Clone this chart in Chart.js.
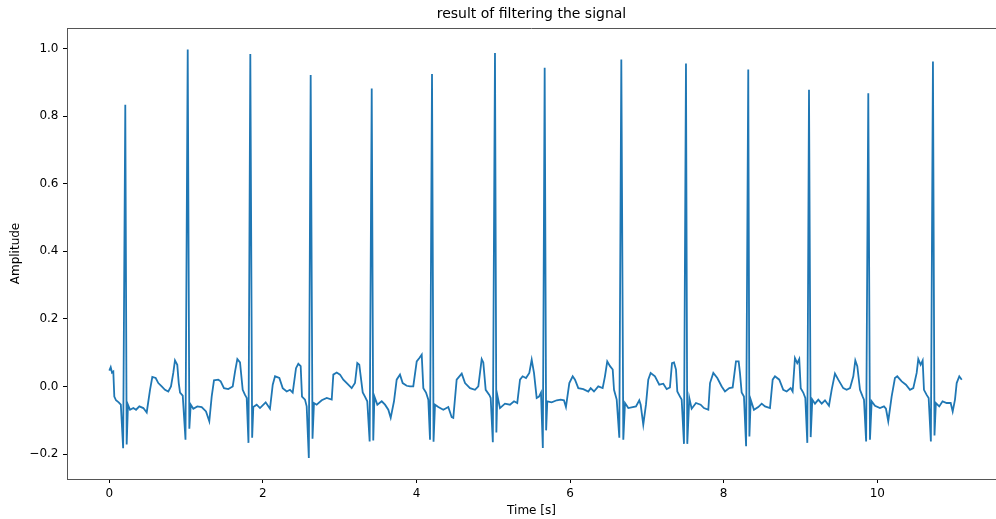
<!DOCTYPE html>
<html>
<head>
<meta charset="utf-8">
<script src="https://cdn.jsdelivr.net/npm/chart.js@4.4.1/dist/chart.umd.min.js"></script>
<style>
  html, body { margin: 0; padding: 0; background: #fff; }
  #wrap { width: 996px; height: 519px; }
</style>
</head>
<body>
<div id="wrap"><canvas id="myChart" width="996" height="519"></canvas></div>
<script>
// one line per heartbeat (same count of entries in both arrays on each line)
const timeS = [
  0.000, 0.018, 0.035, 0.052, 0.065, 0.087, 0.122, 0.150, 0.180, 0.208, 0.226, 0.243,
  0.270, 0.313, 0.348, 0.391, 0.443, 0.487, 0.530, 0.560, 0.604, 0.638, 0.682, 0.725, 0.768, 0.803, 0.833, 0.855, 0.885, 0.904, 0.921, 0.956, 0.992, 1.021, 1.042, 1.060,
  1.094, 1.146, 1.203, 1.259, 1.302, 1.333, 1.363, 1.419, 1.450, 1.493, 1.549, 1.607, 1.637, 1.667, 1.702, 1.737, 1.767, 1.789, 1.812, 1.836, 1.860, 1.875,
  1.919, 1.962, 2.036, 2.092, 2.128, 2.158, 2.214, 2.258, 2.310, 2.353, 2.388, 2.431, 2.461, 2.492, 2.509, 2.548, 2.570, 2.598, 2.622, 2.646, 2.665,
  2.700, 2.766, 2.831, 2.896, 2.917, 2.961, 3.004, 3.047, 3.099, 3.156, 3.199, 3.229, 3.255, 3.300, 3.329, 3.359, 3.390, 3.417, 3.437, 3.452,
  3.490, 3.547, 3.590, 3.633, 3.664, 3.707, 3.742, 3.785, 3.820, 3.872, 3.915, 3.958, 4.003, 4.040, 4.068, 4.089, 4.124, 4.154, 4.176, 4.202, 4.222, 4.241,
  4.284, 4.349, 4.414, 4.458, 4.479, 4.523, 4.589, 4.632, 4.697, 4.762, 4.805, 4.849, 4.870, 4.901, 4.948, 4.966, 4.994, 5.022, 5.040, 5.052,
  5.087, 5.152, 5.217, 5.270, 5.312, 5.348, 5.382, 5.426, 5.469, 5.500, 5.530, 5.565, 5.595, 5.621, 5.645, 5.669, 5.688, 5.703,
  5.760, 5.826, 5.877, 5.920, 5.946, 5.990, 6.034, 6.064, 6.107, 6.172, 6.237, 6.268, 6.311, 6.367, 6.424, 6.454, 6.484, 6.520, 6.555, 6.572, 6.607, 6.641, 6.667, 6.693, 6.715,
  6.758, 6.815, 6.858, 6.901, 6.919, 6.953, 6.988, 7.018, 7.049, 7.105, 7.161, 7.214, 7.258, 7.300, 7.327, 7.353, 7.379, 7.396, 7.431, 7.453, 7.483, 7.509, 7.526, 7.552,
  7.583, 7.639, 7.700, 7.743, 7.800, 7.822, 7.865, 7.917, 7.974, 8.017, 8.073, 8.117, 8.160, 8.195, 8.212, 8.234, 8.264, 8.292, 8.320, 8.335, 8.352,
  8.394, 8.450, 8.495, 8.538, 8.603, 8.638, 8.668, 8.724, 8.776, 8.820, 8.872, 8.898, 8.928, 8.958, 8.984, 9.003, 9.036, 9.063, 9.089, 9.111, 9.133, 9.154,
  9.189, 9.232, 9.276, 9.319, 9.371, 9.406, 9.449, 9.492, 9.557, 9.601, 9.645, 9.688, 9.714, 9.740, 9.775, 9.810, 9.827, 9.855, 9.883, 9.905, 9.927,
  9.970, 10.035, 10.087, 10.113, 10.143, 10.187, 10.230, 10.260, 10.318, 10.373, 10.426, 10.469, 10.513, 10.534, 10.565, 10.591, 10.608, 10.643, 10.669, 10.698, 10.725, 10.745, 10.763,
  10.807, 10.850, 10.904, 10.956, 10.982, 11.012, 11.034, 11.068, 11.100
];

const amplitude = [
  0.047, 0.057, 0.041, 0.044, -0.030, -0.041, -0.047, -0.054, -0.183, 0.834, -0.172, -0.054,
  -0.069, -0.064, -0.069, -0.059, -0.064, -0.077, -0.010, 0.028, 0.025, 0.010, 0.000, -0.010, -0.015, 0.000, 0.040, 0.077, 0.064, 0.010, -0.018, -0.027, -0.158, 0.997, -0.125, -0.054,
  -0.066, -0.059, -0.061, -0.074, -0.103, -0.030, 0.018, 0.020, 0.015, -0.005, -0.008, 0.000, 0.044, 0.081, 0.071, -0.010, -0.025, -0.034, -0.167, 0.984, -0.152, -0.061,
  -0.054, -0.064, -0.047, -0.066, 0.005, 0.030, 0.025, -0.005, -0.015, -0.010, -0.018, 0.054, 0.067, 0.060, -0.030, -0.039, -0.059, -0.212, 0.922, -0.155, -0.049,
  -0.054, -0.041, -0.034, -0.039, 0.035, 0.041, 0.035, 0.020, 0.008, -0.005, 0.010, 0.069, 0.064, -0.018, -0.030, -0.044, -0.163, 0.882, -0.160, -0.030,
  -0.054, -0.044, -0.054, -0.069, -0.093, -0.044, 0.020, 0.035, 0.010, 0.002, 0.000, 0.000, 0.074, 0.085, 0.094, -0.005, -0.018, -0.039, -0.158, 0.925, -0.164, -0.054,
  -0.061, -0.069, -0.061, -0.091, -0.093, 0.020, 0.038, 0.010, -0.005, -0.010, 0.000, 0.081, 0.071, -0.010, -0.025, -0.034, -0.165, 0.987, -0.136, -0.025,
  -0.064, -0.051, -0.054, -0.044, -0.049, 0.020, 0.030, 0.025, 0.040, 0.079, 0.040, -0.034, -0.030, -0.018, -0.182, 0.943, -0.130, -0.044,
  -0.047, -0.041, -0.039, -0.041, -0.061, 0.010, 0.030, 0.020, -0.005, -0.008, -0.015, -0.005, -0.015, 0.000, -0.005, 0.030, 0.074, 0.060, 0.050, -0.010, -0.039, -0.152, 0.968, -0.158, -0.049,
  -0.064, -0.061, -0.059, -0.041, -0.054, -0.113, -0.054, 0.020, 0.040, 0.030, 0.005, 0.008, -0.008, -0.003, 0.069, 0.071, 0.050, -0.015, -0.030, -0.039, -0.170, 0.956, -0.170, -0.034,
  -0.066, -0.049, -0.054, -0.064, -0.069, 0.010, 0.040, 0.025, 0.000, -0.015, -0.005, -0.003, 0.074, 0.074, 0.040, -0.018, -0.030, -0.177, 0.938, -0.148, -0.039,
  -0.069, -0.061, -0.051, -0.059, -0.064, 0.020, 0.030, 0.020, -0.010, -0.015, -0.005, -0.015, 0.084, 0.069, 0.081, -0.005, -0.018, -0.034, -0.167, 0.878, -0.150, -0.039,
  -0.051, -0.039, -0.051, -0.041, -0.057, -0.010, 0.038, 0.020, -0.005, -0.010, -0.005, 0.030, 0.077, 0.060, -0.010, -0.030, -0.039, -0.163, 0.868, -0.158, -0.044,
  -0.057, -0.064, -0.059, -0.066, -0.103, -0.030, 0.025, 0.030, 0.015, 0.005, -0.010, -0.005, 0.040, 0.081, 0.064, 0.077, -0.010, -0.025, -0.034, -0.163, 0.962, -0.145, -0.049,
  -0.059, -0.044, -0.049, -0.049, -0.074, -0.039, 0.010, 0.030, 0.020
];

const xTicks = [0, 2, 4, 6, 8, 10];
const yTicks = [-0.2, 0.0, 0.2, 0.4, 0.6, 0.8, 1.0];

if (timeS.length !== amplitude.length) {
  console.error("length mismatch", timeS.length, amplitude.length);
}

const FONT = "'DejaVu Sans', sans-serif";
const AXIS = "#555";

// matplotlib draws a full frame; the left/bottom come from the scales, top is added here
const topFrame = {
  id: "topFrame",
  afterDraw(chart) {
    const { ctx, chartArea } = chart;
    ctx.save();
    ctx.strokeStyle = AXIS;
    ctx.lineWidth = 1;
    ctx.beginPath();
    ctx.moveTo(chartArea.left, chartArea.top + 0.5);
    ctx.lineTo(chartArea.right, chartArea.top + 0.5);
    ctx.stroke();
    ctx.restore();
  },
};

const ctx = document.getElementById("myChart").getContext("2d");
new Chart(ctx, {
  type: "line",
  data: {
    datasets: [
      {
        data: timeS.map((t, i) => ({ x: t, y: amplitude[i] })),
        borderColor: "#1f77b4",
        borderWidth: 1.8,
        pointRadius: 0,
        fill: false,
        tension: 0,
      },
    ],
  },
  options: {
    responsive: false,
    animation: false,
    layout: { padding: 0 },
    plugins: {
      legend: { display: false },
      tooltip: { enabled: false },
      title: {
        display: true,
        text: "result of filtering the signal",
        color: "#000",
        fullSize: false,
        font: { family: FONT, size: 14, weight: "normal" },
        padding: { top: 6, bottom: 5.2 },
      },
    },
    scales: {
      x: {
        type: "linear",
        min: -0.551,
        max: 11.546,
        afterBuildTicks: (scale) => {
          scale.ticks = xTicks.map((v) => ({ value: v }));
        },
        afterFit: (scale) => {
          scale.height = 40;
        },
        border: { color: AXIS, width: 1 },
        grid: {
          display: true,
          drawOnChartArea: false,
          drawTicks: true,
          tickLength: 4,
          tickColor: "#000",
        },
        ticks: {
          color: "#000",
          padding: 4,
          maxRotation: 0,
          font: { family: FONT, size: 12 },
          callback: (v) => String(v),
        },
        title: {
          display: true,
          text: "Time [s]",
          color: "#000",
          font: { family: FONT, size: 12 },
          padding: { top: 0, bottom: 1 },
        },
      },
      y: {
        type: "linear",
        min: -0.274,
        max: 1.061,
        afterBuildTicks: (scale) => {
          scale.ticks = yTicks.map((v) => ({ value: v }));
        },
        afterFit: (scale) => {
          scale.width = 67;
        },
        border: { color: AXIS, width: 1 },
        grid: {
          display: true,
          drawOnChartArea: false,
          drawTicks: true,
          tickLength: 4,
          tickColor: "#000",
        },
        ticks: {
          color: "#000",
          padding: 4.5,
          font: { family: FONT, size: 12 },
          callback: (v) => (v < 0 ? "\u2212" : "") + Math.abs(v).toFixed(1),
        },
        title: {
          display: true,
          text: "Amplitude",
          color: "#000",
          font: { family: FONT, size: 12 },
          padding: { top: 8.8, bottom: 0 },
        },
      },
    },
  },
  plugins: [topFrame],
});
</script>
</body>
</html>
